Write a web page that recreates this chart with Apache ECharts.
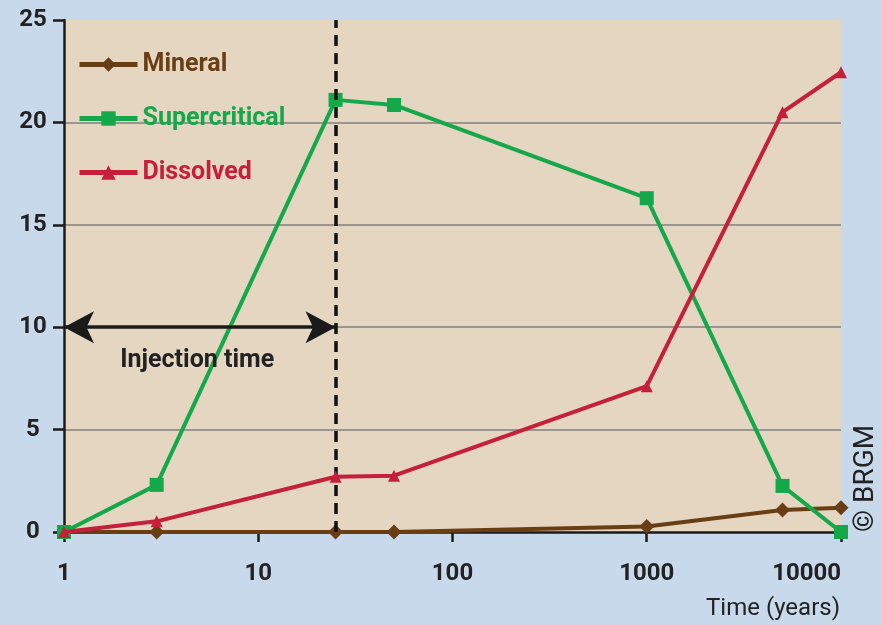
<!DOCTYPE html>
<html><head><meta charset="utf-8">
<script src="https://cdn.jsdelivr.net/npm/echarts@6/dist/echarts.min.js"></script>
<style>html,body{margin:0;padding:0;background:#c9d9ec;}#c{width:882px;height:625px;}</style>
</head><body><div id="c"></div>
<script>
const years = [1, 3, 25, 50, 1000, 5000, 10000];
const mineral = [0, 0, 0, 0, 0.27, 1.07, 1.19];
const supercritical = [0, 2.3, 21.1, 20.85, 16.3, 2.25, 0];
const dissolved = [0, 0.52, 2.7, 2.75, 7.12, 20.5, 22.45];
const xTicks = [1, 10, 100, 1000, 10000];
const yTicks = [0, 5, 10, 15, 20, 25];
const injectionEnd = 25;
const arrowLevel = 10;
const injectionLabelAt = [4.85, 8.35];

const F = 'Roboto';
const cBrown = '#6a3e14', cGreen = '#14a84b', cRed = '#c61f3a';
function pairs(v){ return years.map((x,i)=>[x, v[i]]); }

const chart = echarts.init(document.getElementById('c'));
chart.setOption({
  backgroundColor: '#c9d9ec',
  animation: false,
  grid: { left: 64, right: 41, top: 20, bottom: 93, show: true, backgroundColor: '#e4d6c1', borderWidth: 0 },
  legend: {
    orient: 'vertical', left: 72, top: 47, itemWidth: 58, itemHeight: 18, itemGap: 29,
    lineStyle: { width: 5 },
    textStyle: { fontFamily: F, fontSize: 25, fontWeight: 'bold' },
    data: [
      { name: 'Mineral', textStyle: { color: cBrown } },
      { name: 'Supercritical', textStyle: { color: cGreen } },
      { name: 'Dissolved', textStyle: { color: cRed } }
    ]
  },
  xAxis: {
    type: 'log', logBase: 10, min: xTicks[0], max: xTicks[xTicks.length-1],
    axisLine: { lineStyle: { color: '#1a1a1a', width: 2.5 } },
    axisTick: { length: 10, lineStyle: { color: '#1a1a1a', width: 2.5 } },
    axisLabel: { color: '#222', fontFamily: F, fontSize: 24, fontWeight: 'bold', margin: 30, alignMaxLabel: 'right', formatter: v => String(v) },
    splitLine: { show: false }, minorTick: { show: false }
  },
  yAxis: {
    type: 'value', min: yTicks[0], max: yTicks[yTicks.length-1], interval: 5,
    axisLine: { show: true, lineStyle: { color: '#1a1a1a', width: 2.5 } },
    axisTick: { show: true, length: 11, lineStyle: { color: '#1a1a1a', width: 2.5 } },
    axisLabel: { color: '#222', fontFamily: F, fontSize: 24, fontWeight: 'bold', margin: 31, align: 'center' },
    splitLine: { show: true, showMinLine: false, showMaxLine: false, lineStyle: { color: '#9a958f', width: 2 } }
  },
  series: [
    { name: 'Mineral', type: 'line', data: pairs(mineral), symbol: 'diamond', symbolSize: 15,
      lineStyle: { color: cBrown, width: 4 }, itemStyle: { color: cBrown }, z: 3,
      markLine: {
        silent: true, symbol: ['none','none'], label: { show: false },
        lineStyle: { color: '#111', width: 3.5, type: [11, 7] },
        data: [{ xAxis: injectionEnd }]
      },
      markPoint: {
        symbol: 'circle', symbolSize: 1, itemStyle: { color: 'rgba(0,0,0,0)' },
        label: { show: true, position: 'inside', color: '#222', fontFamily: F, fontSize: 25, fontWeight: 'bold', formatter: 'Injection time' },
        data: [{ coord: injectionLabelAt }]
      }
    },
    { name: 'Supercritical', type: 'line', data: pairs(supercritical), symbol: 'rect', symbolSize: 14,
      lineStyle: { color: cGreen, width: 4 }, itemStyle: { color: cGreen }, z: 4 },
    { name: 'Dissolved', type: 'line', data: pairs(dissolved), symbol: 'triangle', symbolSize: 12,
      lineStyle: { color: cRed, width: 4 }, itemStyle: { color: cRed }, z: 5,
      markLine: {
        silent: true, symbol: ['arrow','arrow'], symbolSize: [24, 30], label: { show: false },
        lineStyle: { color: '#1a1a1a', width: 3.5, type: 'solid' },
        data: [[{ coord: [xTicks[0], arrowLevel] }, { coord: [injectionEnd, arrowLevel] }]]
      }
    }
  ],
  graphic: [
    { type: 'text', right: 42, top: 597, style: { text: 'Time (years)', fill: '#222', font: '400 24px Roboto' } },
    { type: 'text', x: 852, y: 532, rotation: Math.PI/2, style: { text: '© BRGM', fill: '#222', font: '400 28px Roboto', textAlign: 'left', textVerticalAlign: 'top' } }
  ]
});
</script></body></html>
